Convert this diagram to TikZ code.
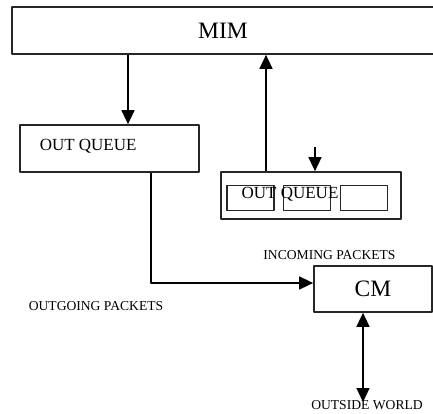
\documentclass[tikz,border=0pt]{standalone}
\usepackage{fontspec}
\setmainfont{Liberation Serif}
\usetikzlibrary{arrows.meta}
\tikzset{
  blk/.style={draw=black!85, line width=1.7pt, inner sep=0pt},
  lbl/.style={font=\fontsize{13.6}{15}\selectfont, inner sep=0pt},
}
\begin{document}
\begin{tikzpicture}[x=1pt,y=-1pt,>={Triangle[length=14pt,width=13pt]}, line width=1.5pt, line join=round]
	\useasboundingbox (0,0) rectangle (433,414);
	% boxes
	\node[blk, minimum width=422pt, minimum height=47pt, font=\fontsize{23.5}{26}\selectfont] (mim) at (223,30.5) {MIM};
	\node[blk, minimum width=179pt, minimum height=47pt] (outq) at (109.5,148.5) {};
	\node[inner sep=0pt, anchor=west, font=\fontsize{17}{19}\selectfont] (outqtxt) at (39,146.5) {OUT QUEUE};
	\node[blk, minimum width=180pt, minimum height=47pt] (inq) at (311,195.5) {};
	\foreach \x/\n in {250.5/a,307/b,364/c}
		\node[blk, minimum width=47pt, minimum height=25pt] (cell\n) at (\x,198) {};
	\node[inner sep=0pt, font=\fontsize{17}{19}\selectfont] (inqtxt) at (290,194.5) {OUT QUEUE};
	\node[blk, minimum width=118pt, minimum height=46pt, font=\fontsize{23.5}{26}\selectfont] (cm) at (373,289) {CM};
	% labels
	\node[lbl] (inc) at (329.5,255) {INCOMING PACKETS};
	\node[lbl] (outg) at (96,306) {OUTGOING PACKETS};
	\node[lbl] (world) at (367,405) {OUTSIDE WORLD};
	\path
	(315,147)coordinate(Q)
	(363,402)coordinate(W)
	;
	% connectors
	\draw[->] ([xshift=18.5pt]outq.north |- mim.south) -- ([xshift=18.5pt]outq.north);
	\draw[->] ([xshift=-45pt]inq.north) -- ([xshift=-45pt]inq.north |- mim.south);
	\draw[->] (Q) -- (Q |- inq.north);
	\draw[->] ([xshift=41.5pt]outq.south) |- ([yshift=6pt]cm.west);
	\draw[<->] ([xshift=-10pt]cm.south) -- (W);
\end{tikzpicture}
\end{document}
